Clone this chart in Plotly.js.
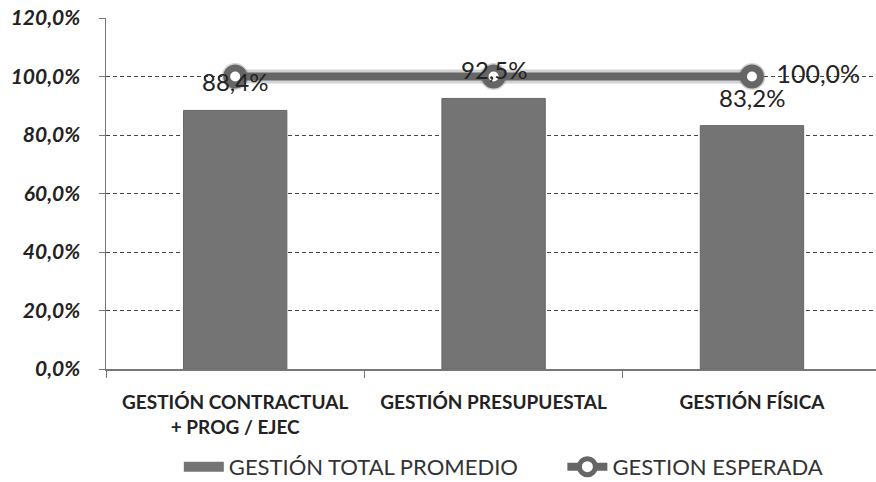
<!DOCTYPE html>
<html><head><meta charset="utf-8">
<script src="https://cdn.plot.ly/plotly-3.0.1.min.js"></script>
<style>html,body{margin:0;padding:0;background:#fff}</style>
</head><body>
<div id="chart" style="width:876px;height:482px"></div>
<script>
const categories = ["GESTIÓN CONTRACTUAL<br>+ PROG / EJEC", "GESTIÓN PRESUPUESTAL", "GESTIÓN FÍSICA"];
const totalPromedio = [88.4, 92.5, 83.2];
const esperada = [100.0, 100.0, 100.0];
const yTicks = [0, 20, 40, 60, 80, 100, 120];

const fmt = v => v.toFixed(1).replace('.', ',') + '%';
const FONT = 'Lato, "Open Sans", sans-serif';
const BAR_COLOR = '#747474';
const GAP = '\u00a0'.repeat(7);

const barTrace = {
  type: 'bar', x: categories, y: totalPromedio, name: 'GESTIÓN TOTAL PROMEDIO',
  width: 0.4, marker: {color: BAR_COLOR, line: {color: '#666', width: 1}},
  showlegend: false, hoverinfo: 'skip'
};
// legend entry for the bars (wide block like the original)
const barLegend = {
  type: 'scatter', mode: 'lines', x: categories, y: categories.map(() => null),
  name: 'GESTIÓN TOTAL PROMEDIO' + GAP, line: {color: BAR_COLOR, width: 13}, hoverinfo: 'skip'
};
const lineShadow = {
  type: 'scatter', mode: 'lines+markers', x: categories, y: esperada, showlegend: false,
  line: {color: 'rgba(110,110,110,0.3)', width: 14},
  marker: {size: 27, color: 'rgba(110,110,110,0.3)'},
  hoverinfo: 'skip'
};
const lineTrace = {
  type: 'scatter', mode: 'lines+markers+text', x: categories, y: esperada, name: 'GESTION ESPERADA',
  line: {color: '#666', width: 8},
  marker: {size: 17, color: '#ffffff', line: {color: '#666', width: 7}},
  text: esperada.map((v, i) => i === esperada.length - 1 ? '  ' + fmt(v) : ''),
  textposition: 'middle right',
  textfont: {family: FONT, size: 25, color: '#222'},
  hoverinfo: 'skip', cliponaxis: false
};

const annotations = categories.map((c, i) => ({
  x: c, y: totalPromedio[i], text: fmt(totalPromedio[i]), showarrow: false,
  yanchor: 'bottom', yshift: 12, font: {family: FONT, size: 24, color: '#222'}
}));

const layout = {
  width: 876, height: 482,
  margin: {l: 106, r: 0, t: 18, b: 113, autoexpand: false},
  paper_bgcolor: '#fff', plot_bgcolor: '#fff',
  separators: ',.',
  showlegend: true,
  legend: {orientation: 'h', x: 0.516, xanchor: 'center', y: -0.279, yanchor: 'middle',
    font: {family: FONT, size: 22, color: '#333'}, traceorder: 'normal', itemwidth: 40},
  xaxis: {
    type: 'category', range: [-0.5, 2.48], automargin: false,
    showline: true, linecolor: '#777', linewidth: 1.5,
    ticks: 'outside', tickson: 'boundaries', ticklen: 7, tickcolor: '#777',
    ticklabelstandoff: 16,
    tickfont: {family: FONT, size: 19, color: '#222', weight: 'bold'},
    showgrid: false
  },
  yaxis: {
    range: [0, 120], tickvals: yTicks, ticktext: yTicks.map(fmt), automargin: false,
    showline: true, linecolor: '#777', linewidth: 1.5,
    ticks: 'outside', ticklen: 6, tickcolor: '#777',
    ticklabelstandoff: 14,
    tickfont: {family: FONT, size: 21, color: '#222', weight: 'bold', style: 'italic'},
    showgrid: true, gridcolor: '#444', griddash: '4px,3px', gridwidth: 1,
    zeroline: false
  },
  annotations: annotations,
  bargap: 0.6
};

Plotly.newPlot('chart', [barTrace, barLegend, lineShadow, lineTrace], layout, {displayModeBar: false, staticPlot: true});
</script>
</body></html>
